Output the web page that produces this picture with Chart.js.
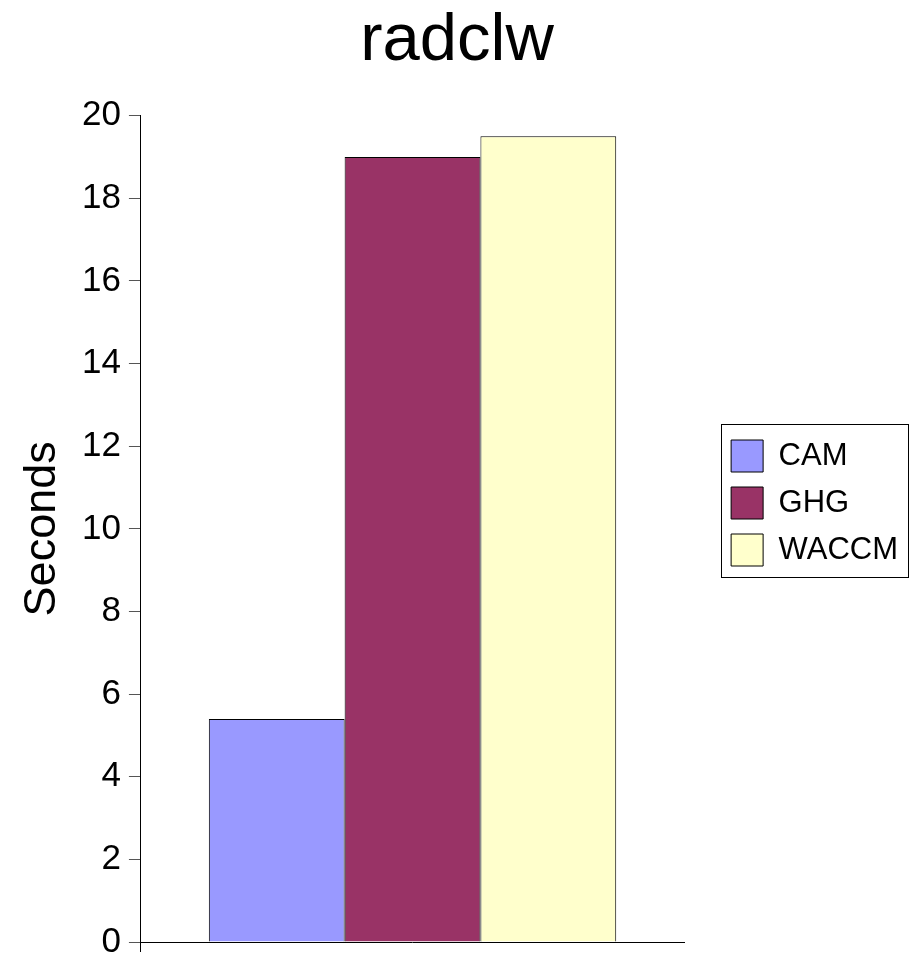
<!DOCTYPE html>
<html>
<head>
<meta charset="utf-8">
<script src="https://cdn.jsdelivr.net/npm/chart.js@4"></script>
<style>
  html, body { margin: 0; padding: 0; background: #fff; }
  #wrap { width: 912px; height: 956px; }
</style>
</head>
<body>
<div id="wrap"><canvas id="radclwChart"></canvas></div>
<script>
const categories = [""];
const seriesNames = ["CAM", "GHG", "WACCM"];
const seriesValues = [[5.4], [19.0], [19.5]];
const seriesColors = ["#9999FF", "#993366", "#FFFFCC"];
const yTicks = [0, 2, 4, 6, 8, 10, 12, 14, 16, 18, 20];

const FONT = "'Liberation Sans', Arial, sans-serif";
const LEGEND_SHIFT = 27; // legend sits a bit below the middle in the original

// nudges the legend down and draws the thin frame round its items
const legendFrame = {
    id: "legendFrame",
    afterLayout(chart) {
        const lg = chart.legend;
        if (!lg) return;
        lg.top += LEGEND_SHIFT;
        lg.bottom += LEGEND_SHIFT;
    },
    afterDraw(chart) {
        const boxes = chart.legend && chart.legend.legendHitBoxes;
        if (!boxes || !boxes.length) return;
        let left = Infinity, top = Infinity, right = -Infinity, bottom = -Infinity;
        boxes.forEach(b => {
            left = Math.min(left, b.left);
            top = Math.min(top, b.top);
            right = Math.max(right, b.left + b.width);
            bottom = Math.max(bottom, b.top + b.height);
        });
        const ctx = chart.ctx;
        ctx.save();
        ctx.strokeStyle = "#000";
        ctx.lineWidth = 1;
        ctx.strokeRect(Math.round(left - 10) + 0.5, Math.round(top - 16) + 0.5,
            Math.round(right - left + 20), Math.round(bottom - top + 27));
        ctx.restore();
    }
};

const ctx = document.getElementById("radclwChart").getContext("2d");
new Chart(ctx, {
    type: "bar",
    data: {
        labels: categories,
        datasets: seriesNames.map((name, i) => ({
            label: name,
            data: seriesValues[i],
            backgroundColor: seriesColors[i],
            borderColor: "#000",
            borderWidth: 1,
            categoryPercentage: 0.75,
            barPercentage: 1.0
        }))
    },
    options: {
        responsive: true,
        maintainAspectRatio: false,
        animation: false,
        layout: { padding: { left: 6, right: 4, top: 0, bottom: 4 } },
        plugins: {
            title: {
                display: true,
                text: "radclw",
                color: "#000",
                font: { family: FONT, size: 67, weight: "normal", lineHeight: 1.1 },
                padding: { top: 5, bottom: 37 }
            },
            legend: {
                position: "right",
                labels: {
                    color: "#000",
                    font: { family: FONT, size: 31 },
                    boxWidth: 32,
                    boxHeight: 32,
                    padding: 15
                }
            },
            tooltip: { enabled: false }
        },
        scales: {
            x: {
                grid: {
                    offset: true,
                    drawOnChartArea: false,
                    tickLength: 10,
                    color: c => c.index === 0 ? "#000" : "rgba(0,0,0,0)"
                },
                border: { color: "#000", width: 1 },
                ticks: { display: false }
            },
            y: {
                min: 0,
                max: 20,
                afterBuildTicks: axis => { axis.ticks = yTicks.map(v => ({ value: v })); },
                // let the end labels overhang the plot, as in the original
                afterFit: axis => { axis.paddingTop = 0; axis.paddingBottom = 0; },
                grid: { drawOnChartArea: false, tickLength: 12, color: "#555" },
                border: { color: "#000", width: 1 },
                ticks: {
                    color: "#000",
                    padding: 8,
                    font: { family: FONT, size: 35 }
                },
                title: {
                    display: true,
                    text: "Seconds",
                    color: "#000",
                    font: { family: FONT, size: 45 },
                    padding: { top: 10, bottom: 4 }
                }
            },
            // hidden right-hand axis, only keeps the gap between plot and legend
            gap: {
                type: "linear",
                position: "right",
                display: false,
                afterFit: axis => { axis.width = 32; }
            }
        }
    },
    plugins: [legendFrame]
});
</script>
</body>
</html>
